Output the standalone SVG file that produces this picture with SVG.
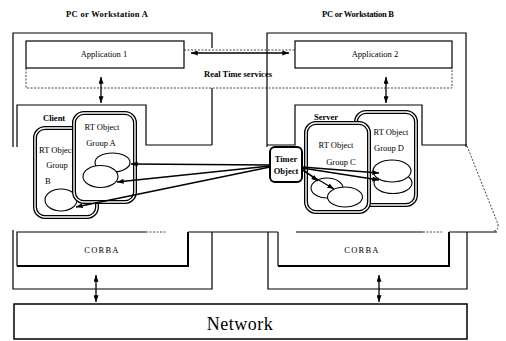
<svg xmlns="http://www.w3.org/2000/svg" width="506" height="341" viewBox="0 0 506 341">
<defs>
<marker id="ah" viewBox="0 0 8 6" refX="8" refY="3" markerWidth="7" markerHeight="5" markerUnits="userSpaceOnUse" orient="auto-start-reverse"><path d="M0,0 L8,3 L0,6 z" fill="#000"/></marker>
</defs>
<style>
.ln{fill:none;stroke:#000;stroke-width:1.2}
.bold{fill:none;stroke:#000;stroke-width:2}
.dot{fill:none;stroke:#444;stroke-width:1;stroke-dasharray:2 1.5}
.box{fill:#fff;stroke:#000;stroke-width:1.2}
.gOut{fill:#fff;stroke:#000;stroke-width:4}
.gIn{fill:none;stroke:#fff;stroke-width:1.4}
.ell{fill:#fff;stroke:#000;stroke-width:1.1}
text{font-family:"Liberation Serif","Times New Roman",serif;fill:#000}
.t{font-size:8.5px}
.tb{font-size:8.5px;font-weight:bold}
.c{text-anchor:middle}
.arr{fill:none;stroke:#000;stroke-width:1.3;marker-end:url(#ah)}
.arr2{fill:none;stroke:#000;stroke-width:1.3;marker-end:url(#ah);marker-start:url(#ah)}
</style>
<rect width="506" height="341" fill="#fff"/>

<g id="ws-a">
<path class="ln" d="M13,147 V33 H212 V48 M212,88 V145 M13,230 V289 H212 V232"/>
<text class="tb c" x="107" y="17" font-size="9" textLength="82">PC or Workstation A</text>
</g>
<g id="ws-b">
<path class="ln" d="M267,147 V33 H466 V147 M268,232 V289 H467 V232"/>
<text class="tb c" x="358" y="17" textLength="72">PC or Workstation B</text>
</g>

<g id="rt-services">
<path class="dot" d="M184,50 H295 M26,68 V88 H452 V68"/>
<text class="tb" x="204" y="77" textLength="68">Real Time services</text>
</g>

<g id="app1">
<rect class="box" x="26" y="41" width="158" height="27"/>
<text class="t c" x="104" y="57">Application 1</text>
</g>
<g id="app2">
<rect class="box" x="295" y="41" width="157" height="27"/>
<text class="t c" x="375" y="57">Application 2</text>
</g>

<g id="client">
<path class="ln" d="M17,147 V105 H146 V145 H212"/>
<text class="tb" x="43" y="121">Client</text>
</g>
<g id="server">
<path class="ln" d="M267,145 H295 V105 H422 V145 H467"/>
<path class="dot" d="M467,146 L498,224 Q499,231 493,231"/>
<text class="tb" x="314" y="120">Server</text>
</g>

<g id="corba-a">
<path class="ln" d="M146,232 H17 V266 M188,232 H278"/>
<path class="bold" d="M17,266 H188 V232"/>
<path class="dot" d="M146,232 H166"/>
<text class="t c" x="102" y="253" font-size="11" letter-spacing="1.2">CORBA</text>
</g>
<g id="corba-b">
<path class="ln" d="M296,232 H423 M278,232 V266 M449,232 H497"/>
<path class="bold" d="M278,266 H449 V232"/>
<path class="dot" d="M423,232 H442"/>
<text class="t c" x="362" y="253" font-size="11" letter-spacing="1.2">CORBA</text>
</g>

<g id="network">
<rect x="14" y="304" width="453" height="35" fill="#fff" stroke="#000" stroke-width="1.5"/>
<text class="c" x="240" y="330" font-size="18" letter-spacing="0.5">Network</text>
</g>

<g id="group-b">
<rect class="gOut" x="35" y="128" width="62" height="89" rx="10"/>
<rect class="gIn" x="35" y="128" width="62" height="89" rx="10"/>
<text class="t" x="39" y="153">RT Object</text>
<text class="t c" x="57" y="168">Group</text>
<text class="t" x="45" y="184">B</text>
<ellipse class="ell" cx="61" cy="200" rx="16" ry="11"/>
</g>
<g id="group-a">
<rect class="gOut" x="74" y="113" width="61" height="89" rx="10"/>
<rect class="gIn" x="74" y="113" width="61" height="89" rx="10"/>
<text class="t c" x="102" y="130">RT Object</text>
<text class="t c" x="101" y="146">Group A</text>
<ellipse class="ell" cx="112.5" cy="162.5" rx="17.5" ry="9.5"/>
<ellipse class="ell" cx="100.5" cy="176.5" rx="17.5" ry="11"/>
</g>
<g id="group-d">
<rect class="gOut" x="356" y="112" width="60" height="93" rx="10"/>
<rect class="gIn" x="356" y="112" width="60" height="93" rx="10"/>
<text class="t c" x="391" y="135">RT Object</text>
<text class="t c" x="389" y="151">Group D</text>
<ellipse class="ell" cx="393" cy="183" rx="19" ry="10.5"/>
<ellipse class="ell" cx="392" cy="171" rx="19" ry="11"/>
</g>
<g id="group-c">
<rect class="gOut" x="306" y="123" width="63" height="89" rx="10"/>
<rect class="gIn" x="306" y="123" width="63" height="89" rx="10"/>
<text class="t c" x="336" y="148">RT Object</text>
<text class="t c" x="341" y="165">Group C</text>
<ellipse class="ell" cx="327" cy="188" rx="16" ry="10"/>
<ellipse class="ell" cx="345" cy="197" rx="17.5" ry="10"/>
</g>

<g id="timer">
<rect x="270" y="147" width="32" height="35" rx="5" fill="#fff" stroke="#000" stroke-width="2"/>
<text class="tb c" x="286" y="162">Timer</text>
<text class="tb c" x="286" y="174">Object</text>
</g>

<g id="connectors">
<path class="arr2" d="M191,53 H289"/>
<path class="arr2" d="M101,77 V103"/>
<path class="arr2" d="M386,77 V103"/>
<path class="arr2" d="M96,275 V302"/>
<path class="arr2" d="M379,275 V302"/>
<path class="arr" d="M270,165 L131,164"/>
<path class="arr" d="M270,166 L117,182"/>
<path class="arr" d="M270,167 L76,207"/>
<path class="arr" d="M302,167 L379,173"/>
<path class="arr" d="M302,168 L379,180"/>
<path class="arr" d="M302,169 L318,181"/>
<path class="arr" d="M302,170 L334,189"/>
</g>
</svg>
